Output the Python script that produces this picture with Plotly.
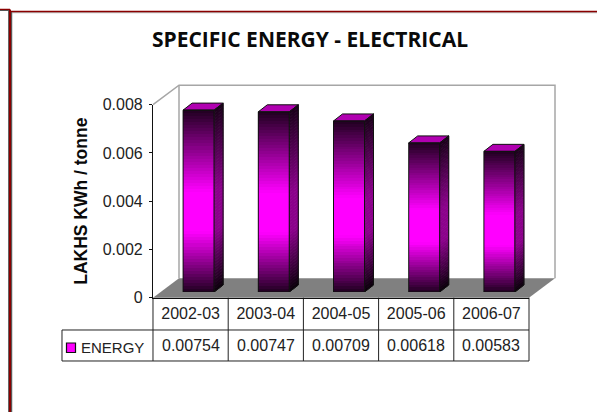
import plotly.graph_objects as go

categories = ["2002-03", "2003-04", "2004-05", "2005-06", "2006-07"]
energy = [0.00754, 0.00747, 0.00709, 0.00618, 0.00583]
value_labels = ["0.00754", "0.00747", "0.00709", "0.00618", "0.00583"]
y_ticks = [0, 0.002, 0.004, 0.006, 0.008]
y_tick_labels = ["0", "0.002", "0.004", "0.006", "0.008"]
series_name = "ENERGY"

W, H = 597, 412
X0, X1 = 153.0, 529.0      # front floor edge
Y0, Y8 = 297.7, 104.7      # value 0 / 0.008 on the front axis
BX, BY = 26.0, 19.5        # depth of the chart box
SX, SY = 8.0, 5.7          # bars stand this far behind the front edge
DX, DY = 9.0, 7.0          # depth of one bar
BAR_W = 31.0
FONT = "Liberation Sans"
TXT = "#222222"
N = 60

def px(x): return x / W
def py(y): return 1 - y / H

px_per_cat = (X1 - X0) / len(categories)
px_per_val = (Y0 - Y8) / 0.008
dx = DX / px_per_cat
dy = DY / px_per_val
bw = BAR_W / px_per_cat
centres = [i + 0.5 for i in range(len(categories))]

def mix(a, b, t):
    return tuple(a[i] + (b[i] - a[i]) * t for i in range(3))

def ramp(t, peak, top, bottom):
    """t: 0 at base, 1 at top of the bar."""
    if t > 0.55:
        c = mix(peak, top, (t - 0.55) / 0.45)
    elif t < 0.33:
        c = mix(bottom, peak, t / 0.33)
    else:
        c = peak
    return "rgb(%d,%d,%d)" % c

FRONT = ((255, 0, 255), (32, 0, 32), (32, 0, 32))
SIDE = ((139, 0, 139), (26, 0, 26), (10, 0, 10))

shapes = []
def poly(points, fill=None, line=None, lw=1, layer="below"):
    path = "M" + " L".join(f"{px(a):.5f},{py(b):.5f}" for a, b in points)
    if fill:
        path += " Z"
    shapes.append(dict(type="path", xref="paper", yref="paper", path=path,
                       fillcolor=fill or "rgba(0,0,0,0)",
                       line=dict(color=line or "rgba(0,0,0,0)", width=lw if line else 0),
                       layer=layer))

# page frame
poly([(0, 9.5), (10, 9.5)], line="#8a0000", lw=1.5)
poly([(0, 10.5), (9, 10.5)], line="#555555", lw=1)
poly([(8.5, 11), (8.5, H)], line="#666666", lw=1)
poly([(11.7, 11), (11.7, H)], line="#333333", lw=1)
poly([(10, 9.5), (10, H)], line="#8a0000", lw=2)
poly([(12, 12.7), (W, 12.7)], line="#aaaaaa", lw=1)
poly([(11, 11.5), (W, 11.5)], line="#8a0000", lw=1.5)

# walls and floor of the chart box
poly([(X0 + BX, Y8 - BY), (X0 + BX, Y0 - BY)], line="#a6a6a6", lw=1.5)
poly([(X0, Y8), (X0 + BX, Y8 - BY), (X1 + BX, Y8 - BY), (X1 + BX, Y0 - BY)], line="#a6a6a6", lw=1.5)
poly([(X0, Y0), (X0 + BX, Y0 - BY), (X1 + BX, Y0 - BY), (X1, Y0)], fill="#808080")

# table grid
R1, R2 = 330.0, 361.0
LEFT = 62.0
for i in range(len(categories) + 1):
    x = X0 + (X1 - X0) * i / len(categories)
    poly([(x, Y0), (x, R2)], line="#222222", lw=1)
poly([(LEFT, R1), (X1, R1)], line="#222222", lw=1)
poly([(LEFT, R2), (X1, R2)], line="#222222", lw=1)
poly([(LEFT, R1), (LEFT, R2)], line="#222222", lw=1)

# legend key
poly([(66.5, 343), (75.5, 343), (75.5, 352.5), (66.5, 352.5)], fill="#ff00ff", line="#111111", lw=1.2, layer="above")

fig = go.Figure()

# front faces: one bar per gradient band, built from the values
bx, by, bbase, bcol = [], [], [], []
for c, v in zip(centres, energy):
    for k in range(N):
        bx.append(c)
        by.append(v / N * 1.3 if k < N - 1 else v / N)
        bbase.append(v * k / N)
        bcol.append(ramp((k + 0.5) / N, *FRONT))
fig.add_trace(go.Bar(x=bx, y=by, base=bbase, width=bw, name=series_name,
                     marker=dict(color=bcol, line=dict(width=0)),
                     xaxis="x2", yaxis="y2", showlegend=False, hoverinfo="skip"))

# side faces
for c, v in zip(centres, energy):
    r = c + bw / 2
    for k in range(N):
        a, b = v * k / N, v * (k + 1) / N
        col = ramp((k + 0.5) / N, *SIDE)
        fig.add_trace(go.Scatter(
            x=[r, r + dx, r + dx, r, r], y=[a, a + dy, b + dy, b, a],
            mode="lines", fill="toself", line=dict(width=0.8, color=col),
            fillcolor=col,
            xaxis="x2", yaxis="y2", showlegend=False, hoverinfo="skip"))
    # top face
    l = c - bw / 2
    fig.add_trace(go.Scatter(
        x=[l, l + dx, r + dx, r, l], y=[v, v + dy, v + dy, v, v],
        mode="lines", fill="toself", line=dict(color="#111111", width=1),
        fillcolor="#b000b0", xaxis="x2", yaxis="y2", showlegend=False, hoverinfo="skip"))
    # outlines
    fig.add_trace(go.Scatter(
        x=[l, l, r, r, l, None, r, r + dx, r + dx, r],
        y=[0, v, v, 0, 0, None, 0, dy, v + dy, v],
        mode="lines", line=dict(color="#111111", width=1),
        xaxis="x2", yaxis="y2", showlegend=False, hoverinfo="skip"))

annotations = []
for c, s in zip(centres, value_labels):
    annotations.append(dict(x=c, y=py(345.5), xref="x", yref="paper", text=s, showarrow=False,
                            font=dict(family=FONT, size=16, color=TXT), xanchor="center", yanchor="middle"))
annotations.append(dict(x=px(78.5), y=py(347), xref="paper", yref="paper", text=series_name, showarrow=False,
                        font=dict(family=FONT, size=15, color=TXT), xanchor="left", yanchor="middle"))

fig.update_layout(
    width=W, height=H,
    margin=dict(l=0, r=0, t=0, b=0, autoexpand=False),
    paper_bgcolor="white", plot_bgcolor="rgba(0,0,0,0)",
    barmode="overlay", bargap=0,
    title=dict(text="<b>SPECIFIC ENERGY - ELECTRICAL</b>", x=310 / W, xanchor="center",
               y=py(40), yanchor="middle", yref="container", automargin=False,
               font=dict(family="Open Sans", size=21, color="#0a0a0a")),
    xaxis=dict(domain=[px(X0), px(X1)], range=[0, len(categories)], tickmode="array",
               tickvals=centres, ticktext=categories, ticks="", showgrid=False, zeroline=False,
               showline=True, linecolor="#111111", linewidth=1, ticklabelstandoff=1, automargin=False,
               tickfont=dict(family=FONT, size=16, color=TXT), anchor="y", fixedrange=True),
    yaxis=dict(domain=[py(Y0), py(Y8)], range=[0, 0.008], tickmode="array",
               tickvals=y_ticks, ticktext=y_tick_labels, ticks="outside", ticklen=3,
               tickcolor="#111111", showgrid=False, zeroline=False, ticklabelstandoff=3, automargin=False,
               showline=True, linecolor="#111111", linewidth=1.2,
               tickfont=dict(family=FONT, size=16, color=TXT), anchor="x", fixedrange=True,
               title=dict(text="<b>LAKHS KWh / tonne</b>", standoff=10,
                          font=dict(family=FONT, size=17.5, color="#0a0a0a"))),
    xaxis2=dict(domain=[px(X0 + SX), px(X1 + SX)], range=[0, len(categories)], visible=False,
                anchor="y2", fixedrange=True, automargin=False),
    yaxis2=dict(domain=[py(Y0 - SY), py(Y8 - SY)], range=[0, 0.008], visible=False,
                anchor="x2", fixedrange=True, automargin=False),
    shapes=shapes, annotations=annotations, showlegend=False,
)

fig.write_html("out.html", config=dict(displayModeBar=False),
               post_script="document.body.style.margin='0';document.body.style.overflow='hidden';")
